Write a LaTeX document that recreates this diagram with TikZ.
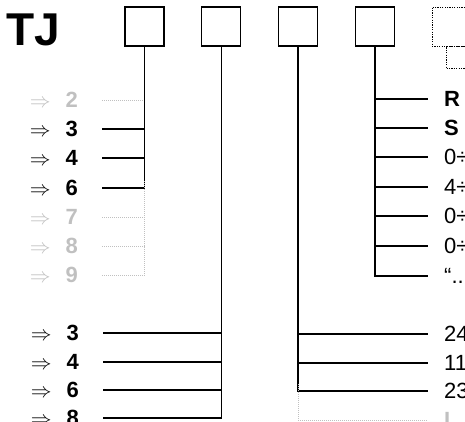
\documentclass[tikz,border=0pt]{standalone}
\usepackage{fontspec}
\setmainfont{Liberation Sans}
\usepackage{xcolor}
\definecolor{offgray}{HTML}{C0C0C0}
\usepackage{tikz}
\usetikzlibrary{positioning}

\begin{document}
\begin{tikzpicture}[x=1pt, y=-1pt,
      font=\fontsize{22}{26}\selectfont,
      box/.style={rectangle, draw, line width=1.3pt, minimum size=39pt, inner sep=0pt},
      ghostbox/.style={rectangle, draw, line width=1pt, dash pattern=on 1.2pt off 1.2pt,
                       minimum size=39pt, inner sep=0pt},
      wire/.style={line width=1.4pt},
      faint/.style={draw=offgray, line width=0.9pt, dash pattern=on 1pt off 1pt},
      inlbl/.style={anchor=east, text width=72pt, align=left, inner sep=0pt,
                    text height=15.7pt, text depth=0pt},
      outlbl/.style={anchor=west, inner sep=0pt, text height=15.7pt, text depth=0pt},
      off/.style={text=offgray},
    ]
    \clip (0,0) rectangle (465,421);

    \node[anchor=base west, inner sep=0pt, font=\fontsize{46}{50}\selectfont\bfseries] (title) at (6,45) {TJ};

    % code boxes
    \node[box] (b1) at (144.5,26.5) {};
    \node[box, right=36.5pt of b1] (b2) {};
    \node[box, right=36.5pt of b2] (b3) {};
    \node[box, right=36.5pt of b3] (b4) {};
    \node[ghostbox, right=36.5pt of b4] (b5) {};
    \node[ghostbox, minimum height=22pt, anchor=north west] (b5tail) at (446,46) {};

    % first box: poles
    \node[inlbl, off] (a2) at (102,100) {$\Rightarrow$\hspace{15pt}\textbf{2}};
    \node[inlbl]      (a3) at (102,129) {$\Rightarrow$\hspace{15pt}\textbf{3}};
    \node[inlbl]      (a4) at (102,158) {$\Rightarrow$\hspace{15pt}\textbf{4}};
    \node[inlbl]      (a6) at (102,188) {$\Rightarrow$\hspace{15pt}\textbf{6}};
    \node[inlbl, off] (a7) at (102,217) {$\Rightarrow$\hspace{15pt}\textbf{7}};
    \node[inlbl, off] (a8) at (102,246) {$\Rightarrow$\hspace{15pt}\textbf{8}};
    \node[inlbl, off] (a9) at (102,275) {$\Rightarrow$\hspace{15pt}\textbf{9}};

    \draw[faint] (a2.east) -- (a2 -| b1);
    \draw[wire] (b1.south) |- (a6.east);
    \draw[wire] (a3.east) -- (a3 -| b1);
    \draw[wire] (a4.east) -- (a4 -| b1);
    \draw[faint] ([yshift=7pt]a6 -| b1) |- (a9.east);
    \draw[faint] (a7.east) -- (a7 -| b1);
    \draw[faint] (a8.east) -- (a8 -| b1);

    % second box: contacts
    \node[inlbl] (c3) at (103,333) {$\Rightarrow$\hspace{15pt}\textbf{3}};
    \node[inlbl] (c4) at (103,362) {$\Rightarrow$\hspace{15pt}\textbf{4}};
    \node[inlbl] (c6) at (103,390) {$\Rightarrow$\hspace{15pt}\textbf{6}};
    \node[inlbl] (c8) at (103,418) {$\Rightarrow$\hspace{15pt}\textbf{8}};

    \draw[wire] (b2.south) |- (c8.east);
    \draw[wire] (c3.east) -- (c3 -| b2);
    \draw[wire] (c4.east) -- (c4 -| b2);
    \draw[wire] (c6.east) -- (c6 -| b2);

    % third box: voltage
    \node[outlbl] (d24) at (444,334) {24};
    \node[outlbl] (d11) at (444,363) {11};
    \node[outlbl] (d23) at (444,391) {23};
    \node[outlbl, off] (dI) at (444,420) {\textbf{I}};

    \draw[wire] (b3.south) |- ([xshift=-16pt]d23.west);
    \draw[wire] (d24 -| b3) -- ([xshift=-16pt]d24.west);
    \draw[wire] (d11 -| b3) -- ([xshift=-16pt]d11.west);
    \draw[faint] ([yshift=7pt]d23 -| b3) |- ([xshift=-16pt]dI.west);

    % fourth box: options
    \node[outlbl] (eR) at (444,99)  {\textbf{R}};
    \node[outlbl] (eS) at (444,128) {\textbf{S}};
    \node[outlbl] (e1) at (444,157) {0÷};
    \node[outlbl] (e2) at (444,187) {4÷};
    \node[outlbl] (e3) at (444,216) {0÷};
    \node[outlbl] (e4) at (444,246) {0÷};
    \node[outlbl] (eQ) at (444,276) {“...};

    \draw[wire] (b4.south) |- ([xshift=-16pt]eQ.west);
    \draw[wire] (eR -| b4) -- ([xshift=-16pt]eR.west);
    \draw[wire] (eS -| b4) -- ([xshift=-16pt]eS.west);
    \draw[wire] (e1 -| b4) -- ([xshift=-16pt]e1.west);
    \draw[wire] (e2 -| b4) -- ([xshift=-16pt]e2.west);
    \draw[wire] (e3 -| b4) -- ([xshift=-16pt]e3.west);
    \draw[wire] (e4 -| b4) -- ([xshift=-16pt]e4.west);
  \end{tikzpicture}
\end{document}
